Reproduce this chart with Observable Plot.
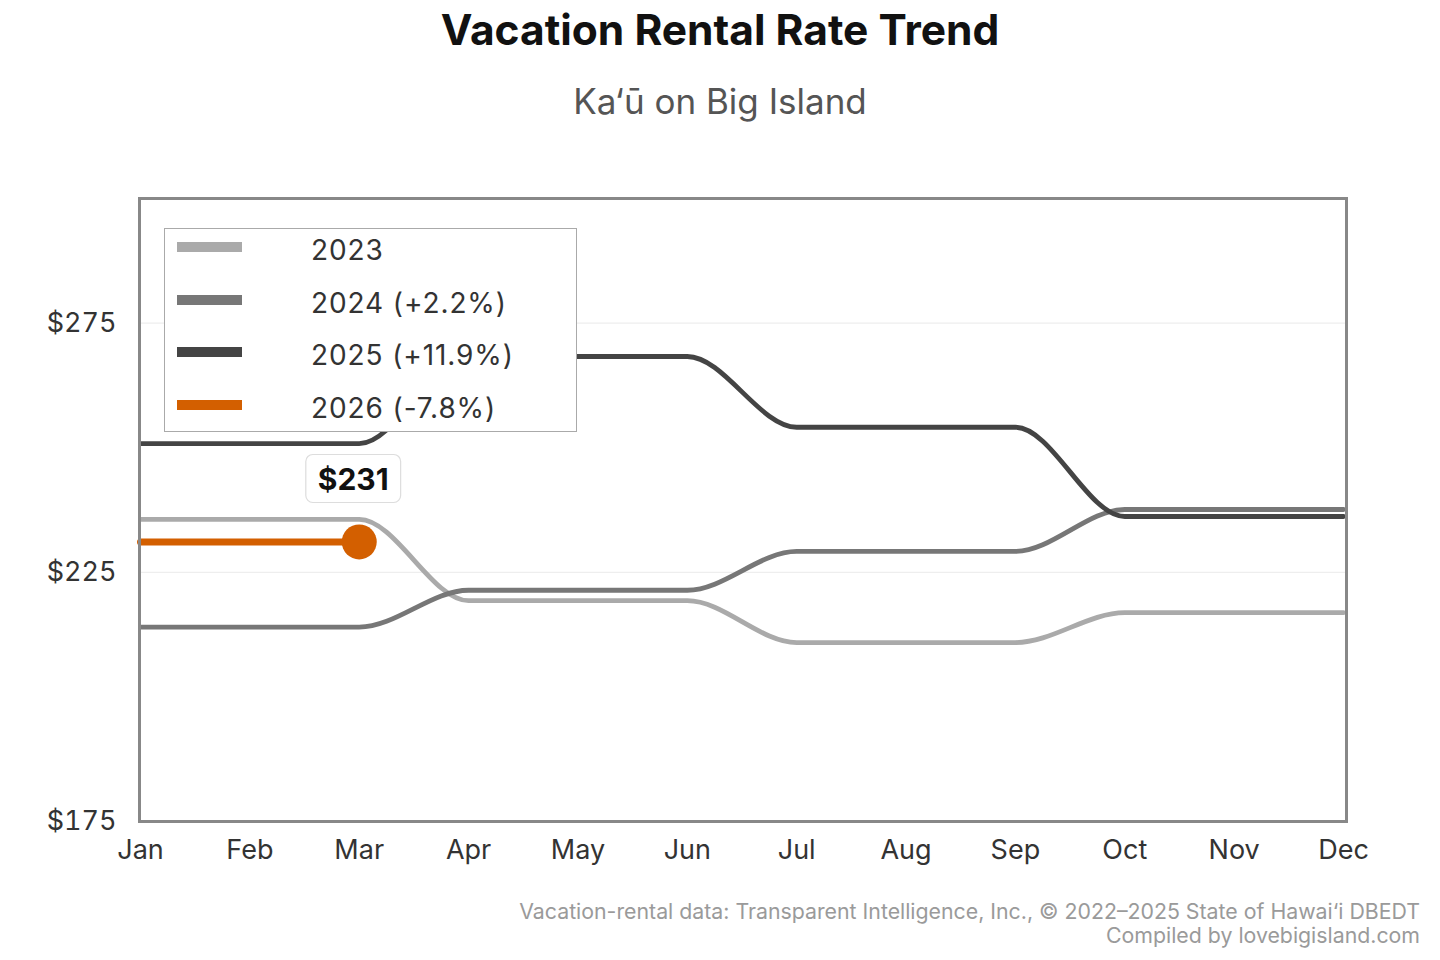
<!DOCTYPE html>
<html>
<head>
<meta charset="utf-8">
<script src="https://cdn.jsdelivr.net/npm/d3@7"></script>
<script src="https://cdn.jsdelivr.net/npm/@observablehq/plot@0.6"></script>
<style>
  html, body { margin: 0; padding: 0; background: #fff; }
  body { width: 1440px; height: 960px; position: relative; font-family: Inter, "Noto Sans", sans-serif; overflow: hidden; }
  #title { position: absolute; left: 0; width: 1440px; top: 4px; text-align: center; font-size: 42.5px; font-weight: 700; color: #111; }
  #subtitle { position: absolute; left: 0; width: 1440px; top: 80px; text-align: center; font-size: 35px; color: #555; }
  #chart { position: absolute; left: 0; top: 150px; }
  #legend { position: absolute; left: 164px; top: 228px; width: 413px; height: 204px; border: 1.5px solid #aaa; background: #fff; box-sizing: border-box; }
  .row { position: absolute; left: 0; height: 40px; width: 100%; }
  .sw { position: absolute; left: 12px; width: 65px; height: 10px; }
  .lab { position: absolute; left: 146px; font-size: 28px; color: #333; letter-spacing: 0.9px; }
  #footer { position: absolute; right: 20px; top: 899px; text-align: right; font-size: 21.3px; color: #9a9a9a; line-height: 24px; }
</style>
</head>
<body>
<div id="title">Vacation Rental Rate Trend</div>
<div id="subtitle">Ka‘ū on Big Island</div>
<div id="chart"></div>
<div id="legend"></div>
<div id="footer">Vacation-rental data: Transparent Intelligence, Inc., © 2022–2025 State of Hawai‘i DBEDT<br>Compiled by lovebigisland.com</div>
<script>
const months = ["Jan","Feb","Mar","Apr","May","Jun","Jul","Aug","Sep","Oct","Nov","Dec"];
const rates2023 = [235.6,235.6,235.6,219.3,219.3,219.3,210.9,210.9,210.9,216.9,216.9,216.9];
const rates2024 = [214.0,214.0,214.0,221.4,221.4,221.4,229.2,229.2,229.2,237.6,237.6,237.6];
const rates2025 = [250.8,250.8,250.8,268.3,268.3,268.3,254.1,254.1,254.1,236.2,236.2,236.2];
const rates2026 = [231.1,231.1,231.1];
const seriesNames = ["2023","2024","2025","2026"];
const legendLabels = ["2023","2024 (+2.2%)","2025 (+11.9%)","2026 (-7.8%)"];
const seriesColors = ["#aaaaaa","#777777","#444444","#d35f00"];
const yTicks = [175,225,275];

const allRates = [rates2023, rates2024, rates2025, rates2026];
const rows = [];
allRates.forEach((arr, si) => arr.forEach((v, i) => rows.push({series: seriesNames[si], m: i, v})));
const last2026 = {m: rates2026.length - 1, v: rates2026[rates2026.length - 1]};
const priceText = "$" + Math.round(last2026.v);

const chart = Plot.plot({
  width: 1440,
  height: 740,
  marginTop: 48,
  marginBottom: 69,
  marginLeft: 139,
  marginRight: 94,
  style: {fontFamily: "Inter, 'Noto Sans', sans-serif", fontSize: "27px", color: "#333", background: "#fff"},
  x: {domain: [0, 11], insetLeft: 1, insetRight: 3, label: null},
  y: {domain: [175, 300], label: null},
  color: {domain: seriesNames, range: seriesColors},
  marks: [
    Plot.gridY(yTicks.slice(1), {stroke: "#eee", strokeOpacity: 1, strokeWidth: 1.2}),
    Plot.line(rows.filter(d => d.series !== "2026"), {x: "m", y: "v", z: "series", stroke: "series", strokeWidth: 4.8, curve: "monotone-x"}),
    Plot.line(rows.filter(d => d.series === "2026"), {x: "m", y: "v", stroke: "series", strokeWidth: 7, curve: "monotone-x"}),
    Plot.dot([last2026], {x: "m", y: "v", r: 17.5, fill: "#d35f00"}),
    Plot.text([last2026], {x: "m", y: "v", text: () => priceText, dy: -62, dx: -6, fontSize: 30, fontWeight: 700, fill: "#111"}),
    Plot.axisY(yTicks, {tickSize: 0, tickPadding: 23, tickFormat: d => "$" + d, fontSize: 27, fill: "#333", label: null}),
    Plot.axisX(d3.range(12), {tickSize: 0, tickPadding: 18, tickFormat: i => months[i], fontSize: 27, fill: "#333", label: null}),
    Plot.frame({stroke: "#888", strokeWidth: 3})
  ]
});
document.getElementById("chart").appendChild(chart);

// rounded box behind the price label, sized from the rendered text
Array.from(chart.querySelectorAll("text"))
  .filter(n => n.textContent.trim() === priceText)
  .forEach(node => {
    const b = node.getBBox();
    const rect = document.createElementNS("http://www.w3.org/2000/svg", "rect");
    rect.setAttribute("x", b.x - 12);
    rect.setAttribute("y", b.y - 6);
    rect.setAttribute("width", b.width + 24);
    rect.setAttribute("height", b.height + 12);
    rect.setAttribute("rx", 7);
    rect.setAttribute("fill", "#fff");
    rect.setAttribute("stroke", "#ddd");
    rect.setAttribute("stroke-width", 1.2);
    const tr = node.getAttribute("transform");
    if (tr) rect.setAttribute("transform", tr);
    node.parentNode.insertBefore(rect, node);
  });

const legend = document.getElementById("legend");
legendLabels.forEach((lab, i) => {
  const row = document.createElement("div");
  row.className = "row";
  row.style.top = (4 + i * 52.5) + "px";
  const sw = document.createElement("div");
  sw.className = "sw";
  sw.style.background = seriesColors[i];
  sw.style.top = "9px";
  const t = document.createElement("div");
  t.className = "lab";
  t.style.top = "0px";
  t.textContent = lab;
  row.appendChild(sw); row.appendChild(t);
  legend.appendChild(row);
});
</script>
</body>
</html>
